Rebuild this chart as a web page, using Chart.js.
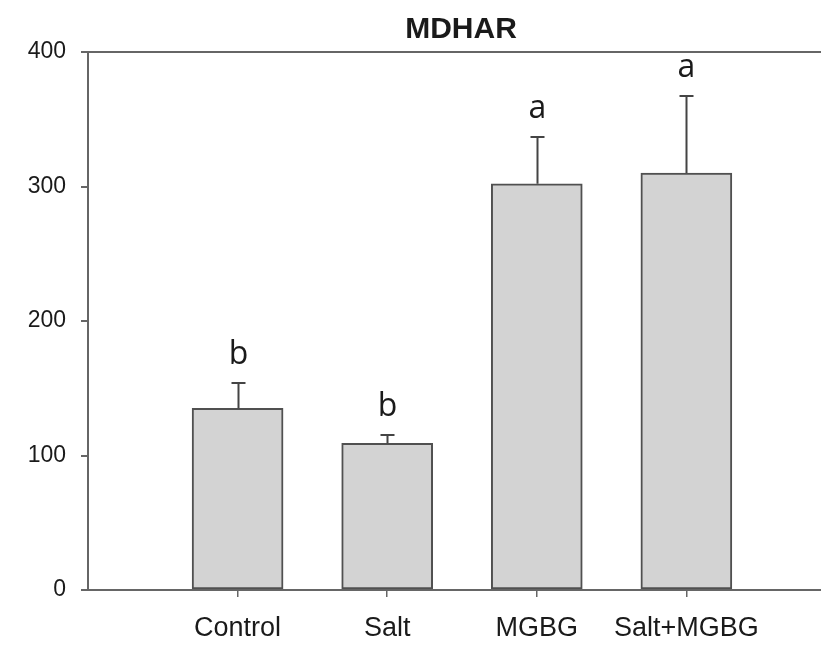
<!DOCTYPE html>
<html>
<head>
<meta charset="utf-8">
<script src="https://cdn.jsdelivr.net/npm/chart.js@4.4.1/dist/chart.umd.min.js"></script>
<style>
  html, body { margin: 0; padding: 0; background: #fff; }
  #wrap { width: 821px; height: 646px; }
</style>
</head>
<body>
<div id="wrap"><canvas id="c" width="821" height="646"></canvas></div>
<script>
// ---- data ----
const title = "MDHAR";
const categories = ["Control", "Salt", "MGBG", "Salt+MGBG"];
const means = [135, 109, 302, 310];
const errors = [19, 6, 35, 57];
const letters = ["b", "b", "a", "a"];
const yTicks = [0, 100, 200, 300, 400];

const positions = categories.map((_, i) => i + 1);

const axisColor = '#666';
const textColor = '#1a1a1a';

const overlay = {
  id: 'overlay',
  afterDatasetsDraw(chart) {
    const ctx = chart.ctx;
    const xs = chart.scales.x, ys = chart.scales.y;
    ctx.save();
    ctx.strokeStyle = '#444';
    ctx.lineWidth = 2;
    positions.forEach((p, i) => {
      const x = Math.round(xs.getPixelForValue(p)) + 0.5;
      const y0 = ys.getPixelForValue(means[i]);
      const y1 = Math.round(ys.getPixelForValue(means[i] + errors[i]));
      ctx.beginPath();
      ctx.moveTo(x, y0);
      ctx.lineTo(x, y1);
      ctx.moveTo(x - 7, y1);
      ctx.lineTo(x + 7, y1);
      ctx.stroke();
      ctx.fillStyle = textColor;
      ctx.font = '32px "Open Sans", "Noto Sans", sans-serif';
      ctx.textAlign = 'center';
      ctx.textBaseline = 'alphabetic';
      ctx.fillText(letters[i], x, y1 - 19);
    });
    ctx.fillStyle = textColor;
    ctx.font = 'bold 30px "Liberation Sans", Arial, sans-serif';
    ctx.textAlign = 'center';
    ctx.textBaseline = 'alphabetic';
    ctx.fillText(title, 461, 38);
    ctx.restore();
  }
};

new Chart(document.getElementById('c'), {
  type: 'bar',
  data: {
    datasets: [{
      data: positions.map((p, i) => ({ x: p, y: means[i] })),
      backgroundColor: '#d3d3d3',
      borderColor: '#505050',
      borderWidth: 2,
      borderSkipped: false,
      barThickness: 91
    }]
  },
  options: {
    responsive: false,
    animation: false,
    devicePixelRatio: 1,
    layout: { padding: { top: 52, right: 0, left: 0, bottom: 0 } },
    plugins: { legend: { display: false }, tooltip: { enabled: false }, title: { display: false } },
    scales: {
      x: {
        type: 'linear',
        offset: false,
        min: 0,
        max: 4.9,
        afterBuildTicks(scale) { scale.ticks = positions.map(v => ({ value: v })); },
        afterFit(scale) { scale.height = 56; },
        grid: { offset: false, drawOnChartArea: false, drawTicks: true, tickLength: 7, color: axisColor, lineWidth: 1.5 },
        border: { display: true, color: axisColor, width: 2 },
        ticks: {
          autoSkip: false,
          maxRotation: 0,
          padding: 15,
          color: textColor,
          font: { family: '"Liberation Sans", Arial, sans-serif', size: 27 },
          callback: (v) => categories[Math.round(v) - 1] ?? ''
        }
      },
      y: {
        min: 0,
        max: 400,
        afterBuildTicks(scale) { scale.ticks = yTicks.map(v => ({ value: v })); },
        afterFit(scale) { scale.width = 88; },
        grid: {
          drawOnChartArea: true,
          drawTicks: true,
          tickLength: 7,
          tickColor: axisColor,
          lineWidth: 2,
          color: (c) => (c.tick && c.tick.value === 400) ? axisColor : 'rgba(0,0,0,0)'
        },
        border: { display: true, color: axisColor, width: 2 },
        ticks: {
          padding: 15,
          color: textColor,
          font: { family: '"Liberation Sans", Arial, sans-serif', size: 23 }
        }
      }
    }
  },
  plugins: [overlay]
});
</script>
</body>
</html>
